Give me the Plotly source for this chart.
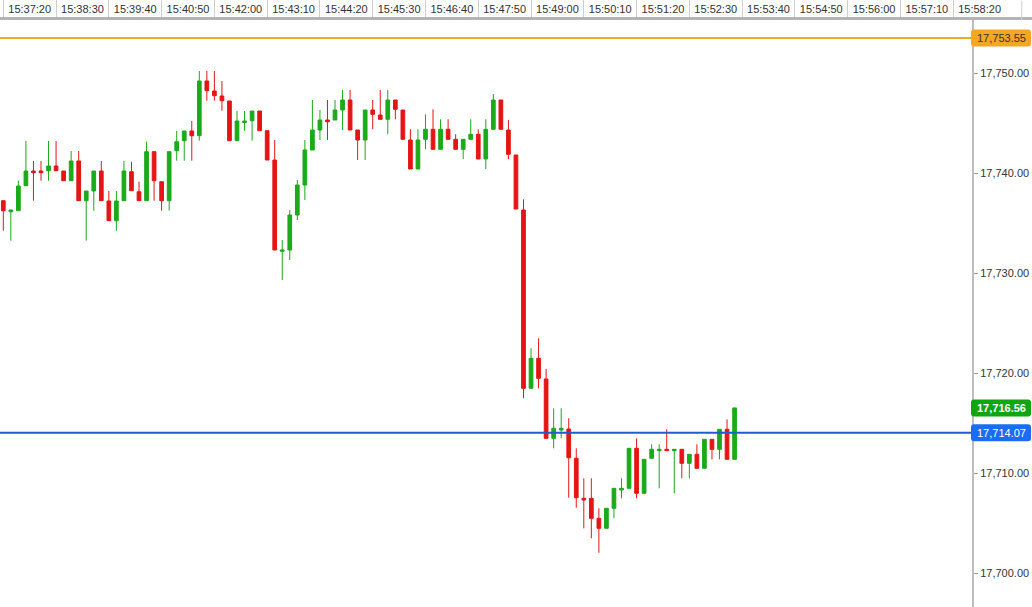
import pandas as pd
import plotly.graph_objects as go

start_time = "2024-01-02 15:37:20"
n_bars = 98
times = pd.date_range(start_time, periods=n_bars, freq="10s")

opens = [17737.28, 17736.18, 17736.28, 17738.78, 17740.25, 17740.25, 17740.28, 17740.75, 17740.25, 17739.28,
         17741.25, 17737.28, 17738.25, 17740.25, 17737.25, 17735.28, 17737.28, 17740.18, 17738.18, 17737.28,
         17742.18, 17739.18, 17737.28, 17742.28, 17743.28, 17744.25, 17743.78, 17749.25, 17748.25, 17747.75,
         17747.25, 17743.28, 17745.10, 17745.28, 17746.25, 17744.28, 17741.35, 17732.22, 17732.35, 17735.85,
         17738.85, 17742.35, 17744.35, 17745.35, 17745.35, 17746.35, 17747.35, 17744.35, 17743.35, 17746.35,
         17745.85, 17745.42, 17747.35, 17746.35, 17743.35, 17740.45, 17743.42, 17744.42, 17742.42, 17744.42,
         17743.42, 17742.42, 17743.42, 17743.92, 17741.45, 17744.42, 17747.35, 17744.35, 17741.85, 17736.35,
         17718.52, 17721.52, 17719.45, 17713.52, 17714.35, 17714.45, 17711.52, 17707.52, 17707.52, 17705.52,
         17704.52, 17706.52, 17708.35, 17708.52, 17712.52, 17708.02, 17711.52, 17712.28, 17712.42, 17712.28,
         17712.42, 17711.02, 17711.92, 17710.52, 17713.42, 17712.42, 17714.42, 17711.42]
highs = [17737.28, 17736.35, 17739.28, 17743.25, 17741.25, 17741.25, 17743.25, 17743.25, 17740.25, 17742.25,
         17742.25, 17738.25, 17740.25, 17741.25, 17738.25, 17738.25, 17741.25, 17741.18, 17739.18, 17743.18,
         17742.18, 17739.18, 17742.18, 17744.25, 17744.25, 17745.25, 17750.25, 17750.25, 17750.25, 17749.25,
         17747.25, 17746.25, 17746.25, 17746.25, 17746.25, 17744.28, 17743.35, 17733.35, 17736.35, 17739.35,
         17743.35, 17747.35, 17746.35, 17747.35, 17747.35, 17748.35, 17748.35, 17744.35, 17746.35, 17747.35,
         17748.35, 17748.35, 17747.35, 17746.35, 17744.42, 17744.42, 17745.92, 17746.42, 17745.42, 17745.42,
         17743.92, 17743.42, 17745.42, 17744.42, 17745.42, 17747.95, 17747.35, 17745.35, 17741.85, 17737.42,
         17722.52, 17723.52, 17720.45, 17716.52, 17716.52, 17715.52, 17712.52, 17709.52, 17709.52, 17706.52,
         17706.52, 17708.52, 17709.52, 17712.52, 17713.52, 17711.42, 17712.92, 17712.92, 17714.42, 17712.42,
         17712.42, 17711.92, 17712.92, 17713.42, 17713.42, 17714.42, 17715.42, 17716.56]
lows = [17734.28, 17733.28, 17736.28, 17738.78, 17737.28, 17739.28, 17739.28, 17740.28, 17739.28, 17739.28,
        17737.28, 17733.28, 17736.28, 17737.28, 17735.28, 17734.28, 17737.28, 17738.28, 17737.28, 17737.28,
        17737.28, 17736.28, 17736.28, 17741.28, 17741.28, 17741.28, 17743.28, 17747.28, 17747.28, 17746.28,
        17743.28, 17743.28, 17744.28, 17743.28, 17744.28, 17741.35, 17732.35, 17729.35, 17731.35, 17735.35,
        17737.35, 17742.35, 17743.35, 17743.35, 17745.35, 17744.35, 17744.35, 17741.35, 17741.35, 17744.42,
        17745.42, 17743.92, 17745.42, 17743.42, 17740.45, 17740.45, 17742.42, 17742.42, 17742.42, 17743.42,
        17742.42, 17741.45, 17743.42, 17741.45, 17740.45, 17744.42, 17744.42, 17741.42, 17736.45, 17717.52,
        17718.52, 17718.52, 17713.52, 17712.52, 17713.52, 17707.58, 17706.58, 17704.52, 17703.52, 17702.08,
        17704.52, 17705.52, 17707.52, 17708.52, 17707.52, 17708.02, 17711.52, 17708.52, 17712.28, 17708.02,
        17709.52, 17709.52, 17710.52, 17710.52, 17711.42, 17711.42, 17711.42, 17711.42]
closes = [17736.28, 17736.35, 17738.75, 17740.25, 17740.08, 17740.08, 17740.75, 17740.28, 17739.28, 17741.25,
          17737.28, 17738.25, 17740.25, 17737.28, 17735.28, 17737.25, 17740.25, 17738.28, 17737.28, 17742.18,
          17739.28, 17737.28, 17742.18, 17743.18, 17744.25, 17743.78, 17749.25, 17748.28, 17747.78, 17747.28,
          17743.28, 17745.25, 17745.25, 17746.25, 17744.28, 17741.35, 17732.35, 17732.35, 17735.85, 17738.85,
          17742.35, 17744.35, 17745.35, 17745.18, 17746.35, 17747.35, 17744.35, 17743.35, 17746.35, 17745.92,
          17745.42, 17747.35, 17746.42, 17743.42, 17740.45, 17743.35, 17744.42, 17742.42, 17744.42, 17743.42,
          17742.42, 17743.42, 17743.92, 17741.45, 17744.42, 17747.35, 17744.42, 17741.92, 17736.45, 17718.52,
          17721.52, 17719.52, 17713.52, 17714.52, 17714.52, 17711.58, 17707.58, 17707.35, 17705.52, 17704.52,
          17706.52, 17708.52, 17708.52, 17712.52, 17708.02, 17711.42, 17712.42, 17712.42, 17712.28, 17712.42,
          17711.02, 17711.92, 17710.52, 17713.42, 17712.42, 17714.42, 17711.42, 17716.56]

time_labels = ["15:37:20", "15:38:30", "15:39:40", "15:40:50", "15:42:00", "15:43:10", "15:44:20",
               "15:45:30", "15:46:40", "15:47:50", "15:49:00", "15:50:10", "15:51:20", "15:52:30",
               "15:53:40", "15:54:50", "15:56:00", "15:57:10", "15:58:20"]
price_ticks = [17700, 17710, 17720, 17730, 17740, 17750]

orange_level = 17753.55
blue_level = 17714.07
last_price = closes[-1]

GREEN = "#1aaa1a"
RED = "#e51515"
ORANGE = "#f5a623"
BLUE_LINE = "#1f5ccc"
BLUE_BOX = "#1a6cf2"
GREEN_BOX = "#12a512"

W, H = 1032, 607
AXIS_X = 973 / W

sep_times = [pd.Timestamp("2024-01-02 " + t) for t in time_labels]
label_times = [t + pd.Timedelta(seconds=35) for t in sep_times]

fig = go.Figure()
fig.add_trace(go.Candlestick(
    x=times, open=opens, high=highs, low=lows, close=closes,
    increasing=dict(line=dict(color=GREEN, width=1), fillcolor=GREEN),
    decreasing=dict(line=dict(color=RED, width=1), fillcolor=RED),
    hoverinfo="skip", showlegend=False,
))

px_per_s = 0.7539
x_start = times[0] - pd.Timedelta(seconds=3.3 / px_per_s)
x_end = x_start + pd.Timedelta(seconds=W / px_per_s)

fig.update_layout(
    width=W, height=H,
    margin=dict(l=0, r=0, t=20, b=0),
    paper_bgcolor="white", plot_bgcolor="white",
    font=dict(family="Liberation Sans, Arial, sans-serif", size=11, color="#333333"),
    xaxis=dict(
        side="top", range=[x_start, x_end], rangeslider=dict(visible=False),
        tickmode="array", tickvals=label_times, ticktext=time_labels,
        ticks="", showgrid=False, zeroline=False,
        showline=True, linecolor="#b4b4b4", linewidth=3,
        tickfont=dict(size=11, color="#333333"),
        minor=dict(tickmode="array", tickvals=sep_times, ticks="outside",
                   ticklen=19, tickwidth=1, tickcolor="#cfcfcf", showgrid=False),
    ),
    yaxis=dict(
        anchor="free", position=AXIS_X, side="right",
        range=[17696.65, 17755.35], tickmode="array", tickvals=price_ticks,
        tickformat=",.2f", ticks="outside", ticklen=4, tickcolor="#999999",
        showgrid=False, zeroline=False, showline=True, linecolor="#bdbdbd", linewidth=2,
        tickfont=dict(size=11, color="#333333"),
    ),
)


def tag_path(w=60, h=17, r=3):
    hh = h / 2
    return (f"M {r - 2},{-hh} L {w - 2 - r},{-hh} Q {w - 2},{-hh} {w - 2},{-hh + r} "
            f"L {w - 2},{hh - r} Q {w - 2},{hh} {w - 2 - r},{hh} L {r - 2},{hh} "
            f"Q -2,{hh} -2,{hh - r} L -2,{-hh + r} Q -2,{-hh} {r - 2},{-hh} Z")


for level, line_col, box_col, txt_col, bold, show_line in [
    (orange_level, ORANGE, ORANGE, "#333333", False, True),
    (blue_level, BLUE_LINE, BLUE_BOX, "white", False, True),
    (last_price, None, GREEN_BOX, "white", True, False),
]:
    if show_line:
        fig.add_shape(type="line", xref="paper", yref="y", x0=0, x1=AXIS_X,
                      y0=level, y1=level, line=dict(color=line_col, width=2), layer="above")
    fig.add_shape(type="path", xref="paper", yref="y", xsizemode="pixel", ysizemode="pixel",
                  xanchor=AXIS_X, yanchor=level, path=tag_path(),
                  fillcolor=box_col, line=dict(color=box_col, width=0), layer="above")
    txt = f"{level:,.2f}"
    if bold:
        txt = f"<b>{txt}</b>"
    fig.add_annotation(x=(973 + 28) / W, xref="paper", y=level, yref="y", text=txt,
                       showarrow=False, xanchor="center", yanchor="middle",
                       font=dict(size=11, color=txt_col))

# right end separator of the time bar
fig.add_shape(type="line", xref="paper", yref="paper", x0=1021.7 / W, x1=1021.7 / W,
              y0=1.0, y1=1.0 + 19 / (H - 20), line=dict(color="#cfcfcf", width=1))

fig.write_html(
    "out.html",
    config={"displayModeBar": False, "staticPlot": True},
    post_script="document.body.style.margin='0';document.body.style.overflow='hidden';",
)
